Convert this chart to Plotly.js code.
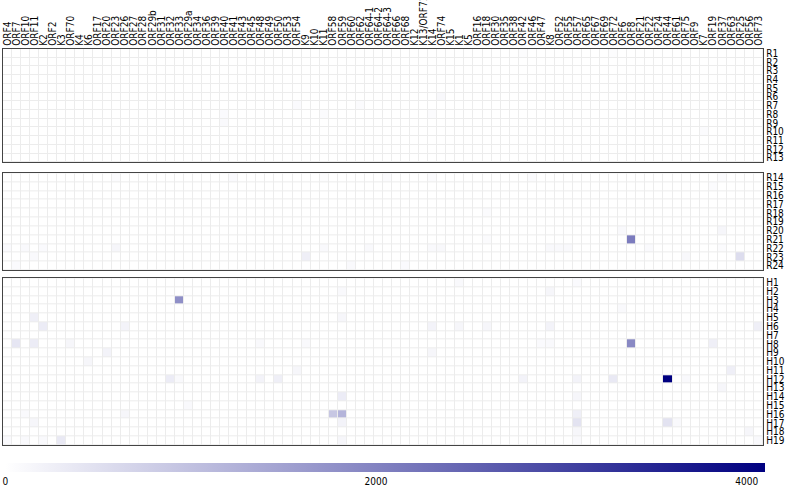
<!DOCTYPE html>
<html>
<head>
<meta charset="utf-8">
<script src="https://cdn.plot.ly/plotly-3.0.1.min.js"></script>
<style>
body { margin: 0; background: #fff; }
#heatmap { width: 788px; height: 486px; }
</style>
</head>
<body>
<div id="heatmap"></div>
<script>
// column labels (genes)
var genes = ["ORF4", "ORF7", "ORF10", "ORF11", "K2", "ORF2", "K3", "ORF70", "K4", "K6",
    "ORF17", "ORF20", "ORF23", "ORF26", "ORF27", "ORF28", "ORF29b", "ORF31", "ORF32", "ORF33",
    "ORF29a", "ORF34", "ORF36", "ORF39", "ORF40", "ORF41", "ORF43", "ORF45", "ORF48", "ORF49",
    "ORF50", "ORF53", "ORF54", "K9", "K10", "K11", "ORF58", "ORF59", "ORF60", "ORF62",
    "ORF64-1", "ORF64-2", "ORF64-3", "ORF66", "ORF68", "K12", "K13/ORF71", "K14", "ORF74", "K15",
    "K1", "K5", "ORF16", "ORF18", "ORF30", "ORF35", "ORF38", "ORF42", "ORF46", "ORF47",
    "K8", "ORF52", "ORF55", "ORF57", "ORF65", "ORF67", "ORF69", "ORF72", "ORF6", "ORF8",
    "ORF21", "ORF22", "ORF24", "ORF44", "ORF61", "ORF75", "ORF9", "K7", "ORF19", "ORF37",
    "ORF63", "ORF25", "ORF56", "ORF73"];

// row labels for the three panels
var rowsTop = ["R1", "R2", "R3", "R4", "R5", "R6", "R7", "R8", "R9", "R10", "R11", "R12", "R13"];
var rowsMid = ["R14", "R15", "R16", "R17", "R18", "R19", "R20", "R21", "R22", "R23", "R24"];
var rowsBot = ["H1", "H2", "H3", "H4", "H5", "H6", "H7", "H8", "H9", "H10",
    "H11", "H12", "H13", "H14", "H15", "H16", "H17", "H18", "H19"];

// non-zero cells: [row, gene, value]
var cellsTop = [
    ["R1", "ORF42", 50], ["R1", "ORF72", 50],
    ["R6", "ORF74", 120],
    ["R7", "ORF54", 80], ["R7", "ORF62", 60],
    ["R8", "ORF40", 80], ["R8", "K11", 60], ["R8", "K14", 70],
    ["R9", "ORF40", 100],
    ["R10", "K7", 70]
];

var cellsMid = [
    ["R14", "ORF23", 60], ["R14", "ORF41", 80], ["R14", "K11", 50], ["R14", "ORF64-3", 60],
    ["R14", "K14", 60], ["R14", "ORF46", 70], ["R14", "ORF37", 70],
    ["R15", "ORF19", 60],
    ["R18", "ORF18", 70],
    ["R20", "ORF6", 100], ["R20", "ORF37", 150],
    ["R21", "ORF18", 70], ["R21", "ORF8", 2100],
    ["R22", "ORF4", 80], ["R22", "ORF10", 100], ["R22", "K2", 80], ["R22", "ORF23", 150],
    ["R22", "K11", 100], ["R22", "ORF64-1", 100], ["R22", "K14", 100], ["R22", "ORF74", 120],
    ["R22", "K8", 100], ["R22", "ORF52", 100], ["R22", "ORF55", 100], ["R22", "ORF22", 80],
    ["R22", "ORF37", 60],
    ["R23", "ORF11", 100], ["R23", "K9", 250], ["R23", "ORF75", 120], ["R23", "ORF25", 550],
    ["R24", "ORF7", 80], ["R24", "ORF60", 100], ["R24", "ORF68", 80]
];

var cellsBot = [
    ["H1", "K1", 100], ["H1", "ORF57", 80],
    ["H2", "ORF59", 100], ["H2", "K8", 150],
    ["H3", "ORF33", 1800],
    ["H4", "ORF6", 100],
    ["H5", "ORF11", 250], ["H5", "ORF59", 150],
    ["H6", "K2", 300], ["H6", "ORF26", 200], ["H6", "K14", 200], ["H6", "K1", 150],
    ["H6", "ORF18", 150], ["H6", "K8", 200], ["H6", "ORF73", 250],
    ["H8", "ORF7", 400], ["H8", "ORF11", 300], ["H8", "ORF70", 150], ["H8", "ORF48", 100],
    ["H8", "K9", 100], ["H8", "ORF47", 80], ["H8", "K8", 100], ["H8", "ORF8", 1900],
    ["H8", "ORF19", 250],
    ["H9", "ORF20", 200], ["H9", "K14", 150],
    ["H10", "K6", 150],
    ["H11", "ORF54", 150], ["H11", "ORF63", 250],
    ["H12", "ORF32", 300], ["H12", "ORF33", 100], ["H12", "ORF48", 200], ["H12", "ORF50", 250],
    ["H12", "ORF42", 200], ["H12", "ORF57", 200], ["H12", "ORF72", 350], ["H12", "ORF44", 4100],
    ["H12", "ORF75", 100],
    ["H13", "ORF37", 150],
    ["H14", "ORF59", 300], ["H14", "ORF57", 150],
    ["H15", "ORF29a", 100],
    ["H16", "ORF10", 100], ["H16", "ORF26", 150], ["H16", "ORF58", 900], ["H16", "ORF59", 1200],
    ["H16", "ORF57", 250],
    ["H17", "ORF11", 150], ["H17", "ORF59", 200], ["H17", "ORF57", 450], ["H17", "ORF44", 450],
    ["H17", "ORF61", 100],
    ["H18", "ORF57", 150], ["H18", "ORF56", 150],
    ["H19", "ORF4", 80], ["H19", "ORF10", 100], ["H19", "K2", 100], ["H19", "K3", 350],
    ["H19", "ORF59", 150], ["H19", "ORF57", 100], ["H19", "ORF73", 100]
];

// turn the cell lists into z matrices
function buildZ(rows, cells) {
    var z = rows.map(r => genes.map(g => 0));
    cells.forEach(c => {
        z[rows.indexOf(c[0])][genes.indexOf(c[1])] = c[2];
    });
    return z;
}

var labelFont = {family: "Liberation Sans Narrow, DejaVu Sans Condensed, Arial Narrow, sans-serif", size: 10, color: "#000"};

function makeTrace(rows, cells, xa, ya) {
    return {
        type: "heatmap",
        x: genes,
        y: rows,
        z: buildZ(rows, cells),
        xaxis: xa,
        yaxis: ya,
        coloraxis: "coloraxis",
        xgap: 1,
        ygap: 1,
        hoverongaps: false
    };
}

var data = [
    makeTrace(rowsTop, cellsTop, "x", "y"),
    makeTrace(rowsMid, cellsMid, "x2", "y2"),
    makeTrace(rowsBot, cellsBot, "x3", "y3")
];

var boxLine = {showline: true, mirror: true, linecolor: "#444", linewidth: 1.3, showgrid: false, zeroline: false};

function yAxis(rows, domain, anchor) {
    return Object.assign({
        domain: domain,
        anchor: anchor,
        side: "right",
        autorange: "reversed",
        tickmode: "array",
        tickvals: rows,
        ticktext: rows,
        ticks: "",
        tickfont: labelFont
    }, boxLine);
}

function xAxis(anchor, showLabels) {
    return Object.assign({
        anchor: anchor,
        side: "top",
        tickmode: "array",
        tickvals: genes,
        ticktext: genes,
        tickangle: -90,
        ticks: "",
        showticklabels: showLabels,
        tickfont: labelFont,
        matches: anchor == "y" ? undefined : "x"
    }, boxLine);
}

var layout = {
    width: 788,
    height: 486,
    margin: {l: 3, r: 25, t: 49, b: 38},
    paper_bgcolor: "#fff",
    plot_bgcolor: "#ececec",
    font: labelFont,
    showlegend: false,
    xaxis: xAxis("y", true),
    xaxis2: xAxis("y2", false),
    xaxis3: xAxis("y3", false),
    yaxis: yAxis(rowsTop, [0.714, 1], "x"),
    yaxis2: yAxis(rowsMid, [0.441, 0.686], "x2"),
    yaxis3: yAxis(rowsBot, [0, 0.421], "x3"),
    coloraxis: {
        cmin: 0,
        cmax: 4100,
        colorscale: [[0, "#ffffff"], [1, "#000080"]],
        colorbar: {
            orientation: "h",
            x: 0.503,
            xanchor: "center",
            y: -0.045,
            yanchor: "top",
            len: 760,
            lenmode: "pixels",
            thickness: 9,
            xpad: 0,
            ypad: 0,
            outlinewidth: 0,
            ticks: "",
            tickvals: [0, 2000, 4000],
            tickfont: labelFont
        }
    }
};

Plotly.newPlot("heatmap", data, layout, {displayModeBar: false});
</script>
</body>
</html>
